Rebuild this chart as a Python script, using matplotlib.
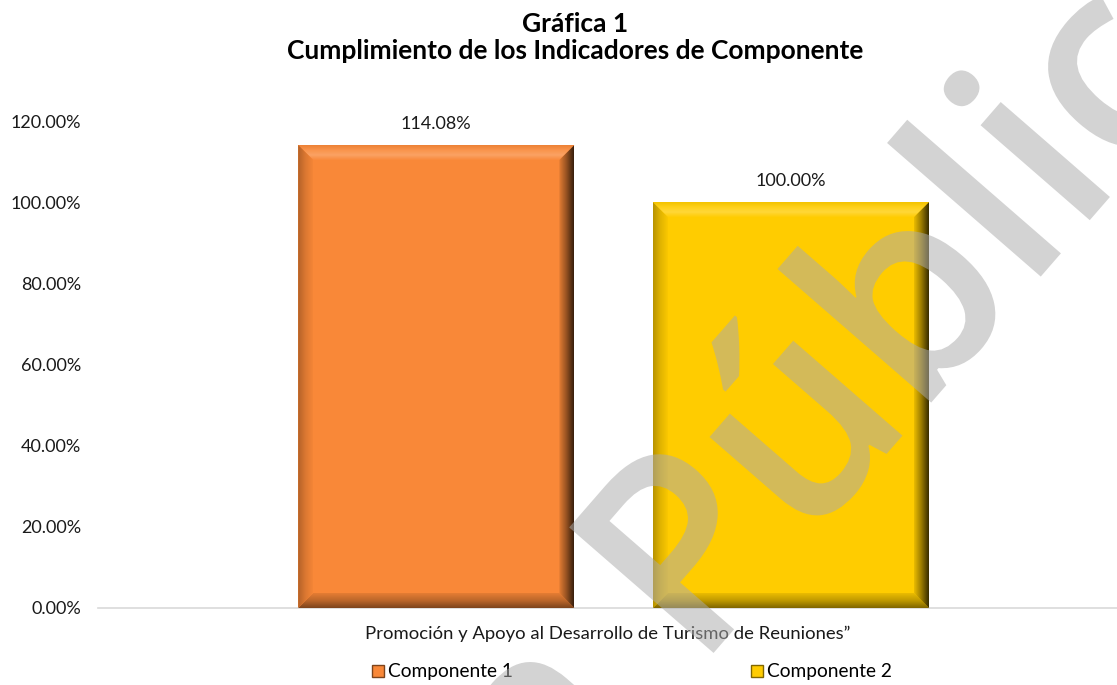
import numpy as np
import matplotlib.pyplot as plt
from matplotlib.patches import Polygon, Patch, PathPatch
from matplotlib.textpath import TextPath
from matplotlib.font_manager import FontProperties
from matplotlib.transforms import Affine2D, IdentityTransform
import matplotlib.colors as mcolors

plt.rcParams['font.family'] = ['Lato', 'DejaVu Sans']

# datos
titulo = 'Gráfica 1\nCumplimiento de los Indicadores de Componente'
categoria = 'Promoción y Apoyo al Desarrollo de Turismo de Reuniones”'
series = ['Componente 1', 'Componente 2']
valores = [114.08, 100.00]
colores = ['#F98838', '#FFCC00']
yticks = [0, 20, 40, 60, 80, 100, 120]
marca_previa = 'Versión '
marca = 'Pública'

W, H = 1117, 685
fig = plt.figure(figsize=(W / 100, H / 100), dpi=100)
ax = fig.add_axes([98 / W, 1 - 608 / H, 1 - 98 / W, (608 - 121) / H])
ax.set_xlim(-0.5, 0.5)
ax.set_ylim(0, 120)

ancho = 0.271
offsets = [-0.168, 0.180]

# tamaño del bisel en unidades de datos (~15 px)
bx = 15 / (W - 98) * 1.0
by = 15 / (608 - 121) * 120


def sombra(c, f):
    r, g, b = mcolors.to_rgb(c)
    if f >= 1:
        return (r + (1 - r) * (f - 1), g + (1 - g) * (f - 1), b + (1 - b) * (f - 1))
    return (r * f, g * f, b * f)


def cara(ax, pts, extent, c, factores, vertical):
    """una cara del bisel con degradado (factores: del borde exterior al interior)"""
    poly = Polygon(pts, closed=True, facecolor='none', lw=0, zorder=3)
    ax.add_patch(poly)
    cmap = mcolors.LinearSegmentedColormap.from_list('g', [sombra(c, f) for f in factores])
    grad = np.linspace(0, 1, 64)
    grad = grad[:, None] if vertical else grad[None, :]
    im = ax.imshow(grad, extent=extent, aspect='auto', cmap=cmap, origin='lower',
                   zorder=3, interpolation='bilinear')
    im.set_clip_path(poly)


for off, v, c, s in zip(offsets, valores, colores, series):
    rect = ax.bar(off, v, ancho, color=c, zorder=2, label=s)[0]
    x0, x1 = rect.get_x(), rect.get_x() + rect.get_width()
    y0, y1 = 0, rect.get_height()
    # arriba: de interior (abajo) a exterior (arriba)
    cara(ax, [(x0, y1), (x1, y1), (x1 - bx, y1 - by), (x0 + bx, y1 - by)],
         [x0, x1, y1 - by, y1], c, [1.02, 1.22, 1.1, 0.95], True)
    # abajo: de exterior (abajo) a interior
    cara(ax, [(x0, y0), (x1, y0), (x1 - bx, y0 + by), (x0 + bx, y0 + by)],
         [x0, x1, y0, y0 + by], c, [0.5, 0.75, 0.92], True)
    # izquierda: de exterior a interior
    cara(ax, [(x0, y0), (x0, y1), (x0 + bx, y1 - by), (x0 + bx, y0 + by)],
         [x0, x0 + bx, y0, y1], c, [0.72, 0.88, 0.98], False)
    # derecha: de interior a exterior
    cara(ax, [(x1, y0), (x1, y1), (x1 - bx, y1 - by), (x1 - bx, y0 + by)],
         [x1 - bx, x1, y0, y1], c, [0.92, 0.6, 0.22], False)
    ax.text(off, v + 3.3, f'{v:.2f}%', ha='center', va='bottom', fontsize=13, color='#1a1a1a', zorder=5)

ax.set_xlim(-0.5, 0.5)
ax.set_ylim(0, 120)
ax.set_yticks(yticks)
ax.set_yticklabels([f'{t:.2f}%' for t in yticks], fontsize=13, color='#1a1a1a')
ax.set_xticks([0])
ax.set_xticklabels([categoria], fontsize=13.3, color='#1a1a1a')
ax.tick_params(axis='both', length=0)
ax.tick_params(axis='y', pad=12)
ax.tick_params(axis='x', pad=13)
for sp in ['left', 'right', 'top']:
    ax.spines[sp].set_visible(False)
ax.spines['bottom'].set_color('#d9d9d9')
ax.spines['bottom'].set_linewidth(1.2)

fig.text(575 / W, 1 - 12 / H, titulo, ha='center', va='top', fontsize=19,
         fontweight='bold', linespacing=1.15)

handles = [Patch(facecolor=c, edgecolor=sombra(c, 0.5), lw=1) for c in colores]
fig.legend(handles, series, loc='center', bbox_to_anchor=(0.566, 1 - 672 / H), ncol=2,
           frameon=False, fontsize=13.8, handlelength=0.6, handleheight=0.6,
           handletextpad=0.25, columnspacing=12.4)

# marca de agua girada; se coloca de modo que la "P" empiece en el borde inferior
fp = FontProperties(family='Open Sans', weight='semibold')
tam = 268
tp = TextPath((0, 0), marca_previa + marca, size=tam, prop=fp)
desp = (TextPath((0, 0), marca_previa + 'P', size=tam, prop=fp).get_extents().x1
        - TextPath((0, 0), 'P', size=tam, prop=fp).get_extents().x1)
tr = Affine2D().translate(-desp, 0).rotate_deg(49).translate(697, 13)
fig.add_artist(PathPatch(tr.transform_path(tp), transform=IdentityTransform(),
                         facecolor=(171 / 255,) * 3, edgecolor='none', alpha=0.52, zorder=10))

fig.savefig('out.png', dpi=100)
